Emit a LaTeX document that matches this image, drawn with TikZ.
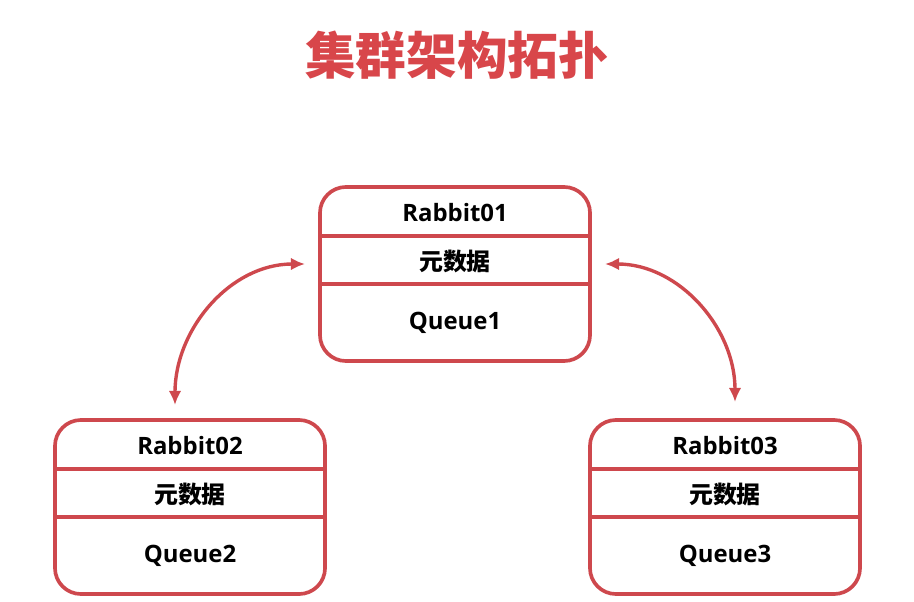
\documentclass[tikz,border=0pt]{standalone}
\usepackage{fontspec}
\setmainfont{Open Sans}
\newfontfamily\cjk{Noto Sans CJK SC}
\usetikzlibrary{positioning,arrows.meta,shadows}
\definecolor{clusterred}{HTML}{CE484D}
\definecolor{titlered}{HTML}{D8464A}

\begin{document}
\begin{tikzpicture}[
    x=0.025cm, y=-0.025cm,
    rbox/.style={draw=clusterred, line width=2.6pt, outer sep=0pt, rounded corners=0.65cm, fill=white,
      minimum width=6.75cm, minimum height=4.35cm,
      drop shadow={opacity=0.18, shadow xshift=0.8pt, shadow yshift=-0.8pt}},
    divider/.style={draw=clusterred, line width=2.6pt},
    hosttext/.style={font=\bfseries\fontsize{17}{20}\selectfont},
    metatext/.style={font=\cjk\bfseries\fontsize{17}{20}\selectfont},
    link/.style={{Latex[length=10pt,width=9pt]}-{Latex[length=10pt,width=9pt]}, line width=2.4pt, draw=clusterred}
  ]
    \fill[white] (0,0) rectangle (914,601);
    \useasboundingbox (0,0) rectangle (914,601);

    \node[font=\cjk\bfseries\fontsize{36}{42}\selectfont, text=titlered] (title) at (457,55) {集群架构拓扑};

    % Rabbit01
    \node[rbox] (r1) at (455,274) {};
    \draw[divider] ([yshift=-1.225cm]r1.north west) -- ([yshift=-1.225cm]r1.north east);
    \draw[divider] ([yshift=-2.425cm]r1.north west) -- ([yshift=-2.425cm]r1.north east);
    \node[hosttext] (r1name) at ([yshift=-0.65cm]r1.north) {Rabbit01};
    \node[metatext] (r1meta) at ([yshift=-1.85cm]r1.north) {元数据};
    \node[hosttext] (r1queue) at ([yshift=-3.4cm]r1.north) {Queue1};

    % Rabbit02
    \node[rbox] (r2) at (190,507) {};
    \draw[divider] ([yshift=-1.225cm]r2.north west) -- ([yshift=-1.225cm]r2.north east);
    \draw[divider] ([yshift=-2.425cm]r2.north west) -- ([yshift=-2.425cm]r2.north east);
    \node[hosttext] (r2name) at ([yshift=-0.65cm]r2.north) {Rabbit02};
    \node[metatext] (r2meta) at ([yshift=-1.85cm]r2.north) {元数据};
    \node[hosttext] (r2queue) at ([yshift=-3.4cm]r2.north) {Queue2};

    % Rabbit03
    \node[rbox] (r3) at (725,507) {};
    \draw[divider] ([yshift=-1.225cm]r3.north west) -- ([yshift=-1.225cm]r3.north east);
    \draw[divider] ([yshift=-2.425cm]r3.north west) -- ([yshift=-2.425cm]r3.north east);
    \node[hosttext] (r3name) at ([yshift=-0.65cm]r3.north) {Rabbit03};
    \node[metatext] (r3meta) at ([yshift=-1.85cm]r3.north) {元数据};
    \node[hosttext] (r3queue) at ([yshift=-3.4cm]r3.north) {Queue3};

    % links
    \draw[link] ([shift={(-0.375cm,0.375cm)}]r2.north) to[out=90, in=180] ([shift={(-0.375cm,0.25cm)}]r1.west);
    \draw[link] ([shift={(0.375cm,0.25cm)}]r1.east) to[out=0, in=90] ([shift={(0.25cm,0.45cm)}]r3.north);
\end{tikzpicture}
\end{document}
